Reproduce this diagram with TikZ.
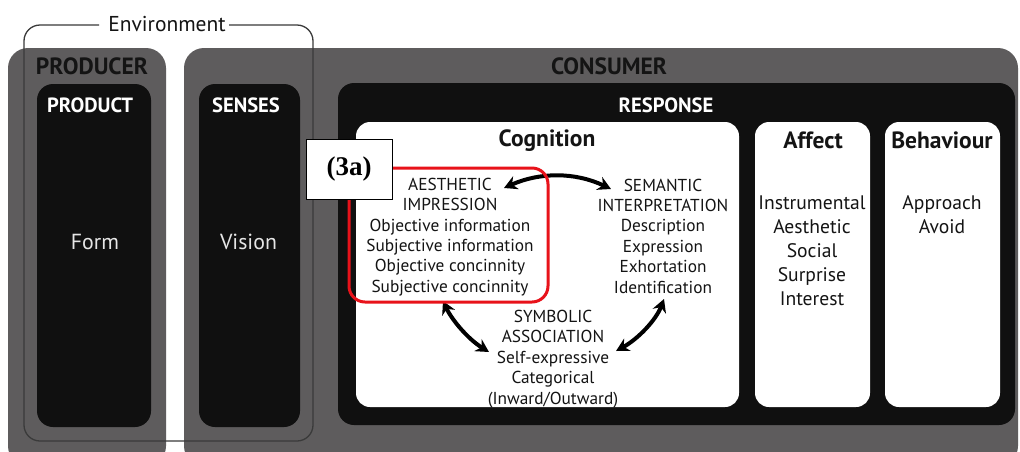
\documentclass[tikz,border=0pt]{standalone}
\usepackage{fontspec}
\setmainfont{PT Sans}
\newfontfamily\timesfont{Liberation Serif}
\usetikzlibrary{arrows.meta}
\definecolor{greybox}{HTML}{5E5C5D}
\definecolor{blackbox}{HTML}{101010}
\definecolor{redbox}{HTML}{E8121A}
\definecolor{envline}{HTML}{3A3A3A}
\definecolor{darktext}{HTML}{141414}
\definecolor{lighttext}{HTML}{E6E6E6}
\newcommand\outerfont{\fontsize{23.5}{26}\selectfont\bfseries}
\newcommand\innerfont{\fontsize{20.6}{24}\selectfont\bfseries}
\newcommand\panelfont{\fontsize{23.5}{26}\selectfont\bfseries}
\newcommand\itemfont{\fontsize{17.3}{20.4}\selectfont}
\newcommand\affectfont{\fontsize{19.6}{24}\selectfont}
\begin{document}
\begin{tikzpicture}[x=1pt,y=-1pt,
  greyframe/.style={fill=greybox, rounded corners=20pt},
  blackframe/.style={fill=blackbox, rounded corners=16pt},
  whiteframe/.style={fill=white, rounded corners=14pt},
  hdouter/.style={text=darktext, font=\outerfont, inner sep=0pt},
  hdinner/.style={text=white, font=\innerfont, inner sep=0pt},
  hdpanel/.style={text=darktext, font=\panelfont, inner sep=0pt},
  bigwhite/.style={text=lighttext, font=\fontsize{21.8}{24}\selectfont, inner sep=0pt},
  itemblock/.style={text=darktext, font=\itemfont, align=center, inner sep=0pt},
  affblock/.style={text=darktext, font=\affectfont, align=center, inner sep=0pt},
  dblarrow/.style={line width=4pt, {Stealth[length=13pt,width=14pt]}-{Stealth[length=13pt,width=14pt]}},
  envstyle/.style={draw=envline, line width=1.3pt, rounded corners=16pt},
  labelbox/.style={draw=black, fill=white, line width=1pt, inner sep=0pt, minimum width=86pt, minimum height=60pt, font=\timesfont\bfseries\fontsize{27}{28}\selectfont}
]
\useasboundingbox (0,0) rectangle (1020,451);
\fill[white] (0,0) rectangle (1020,451);
\begin{scope}
\clip (0,0) rectangle (1020,451);
% grey outer frames
\path[greyframe] (8,48) rectangle (166,466);
\path[greyframe] (184,48) rectangle (1018,466);
\end{scope}
% environment bracket
\draw[envstyle] (99,25) -- (24,25) -- (24,441) -- (313,441) -- (313,25) -- (229,25);
\node[text=darktext, font=\fontsize{21.5}{24}\selectfont, inner sep=0pt] (env) at (167,24) {Environment};
% black boxes
\path[blackframe] (37,84) rectangle (151,427);
\path[blackframe] (199,84) rectangle (300,427);
\path[blackframe] (338,83) rectangle (1015,425);
% white boxes
\path[whiteframe] (356,122) rectangle (739,407);
\path[whiteframe] (755,122) rectangle (870,407);
\path[whiteframe] (885,122) rectangle (1000,407);
% headings
\node[hdouter] (producer) at (92,66) {PRODUCER};
\node[hdouter] (consumer) at (609,66) {CONSUMER};
\node[hdinner] (product) at (90,105) {PRODUCT};
\node[hdinner] (senses) at (246,105) {SENSES};
\node[hdinner] (response) at (666,105) {RESPONSE};
\node[hdpanel] (cognition) at (547,141) {Cognition};
\node[hdpanel] (affect) at (813,140) {Affect};
\node[hdpanel] (behaviour) at (942,140) {Behaviour};
\node[bigwhite] (form) at (95,242) {Form};
\node[bigwhite] (vision) at (248.5,242) {Vision};
% cognition content
\node[itemblock] (aes) at (450,237) {AESTHETIC\\IMPRESSION\\Objective information\\Subjective information\\Objective concinnity\\Subjective concinnity};
\node[itemblock] (sem) at (663,236) {SEMANTIC\\INTERPRETATION\\Description\\Expression\\Exhortation\\Identification};
\node[itemblock] (sym) at (553,359) {SYMBOLIC\\ASSOCIATION\\Self-expressive\\Categorical\\(Inward/Outward)};
\node[affblock] (affitems) at (812,251) {Instrumental\\Aesthetic\\Social\\Surprise\\Interest};
\node[affblock] (behitems) at (942,215) {Approach\\Avoid};
% arrows
\coordinate (aesR) at (504,188);
\coordinate (semL) at (611,189);
\coordinate (aesB) at (443,301);
\coordinate (symL) at (489,352);
\coordinate (semB) at (664,299);
\coordinate (symR) at (616,351);
\draw[dblarrow] (aesR) .. controls (540,172) and (575,172) .. (semL);
\draw[dblarrow] (aesB) .. controls (452,320) and (468,339) .. (symL);
\draw[dblarrow] (semB) .. controls (656,320) and (638,339) .. (symR);
% red highlight
\draw[redbox, line width=3pt, rounded corners=16pt] (349,168) rectangle (548,302);
\node[labelbox] (label3a) at (349,169) {(3a)};
\end{tikzpicture}
\end{document}
